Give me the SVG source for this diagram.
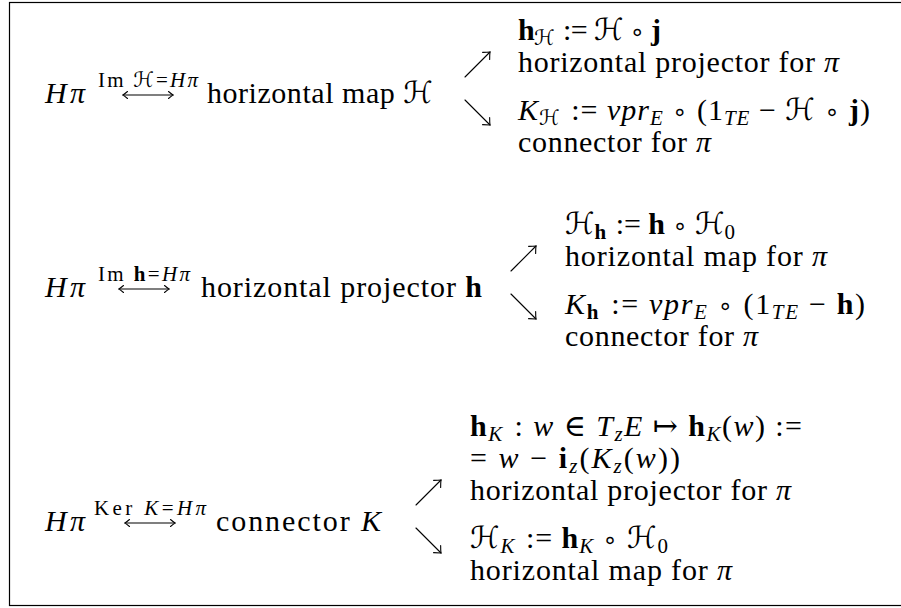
<svg xmlns="http://www.w3.org/2000/svg" width="901" height="608" viewBox="0 0 901 608">
<defs>
<style>
.t{font-family:'Liberation Serif','Times New Roman','DejaVu Serif',serif;font-size:30px;fill:#000}
.s{font-size:21px}
.i{font-style:italic}
.b{font-weight:bold}
.c{font-family:'DejaVu Sans',sans-serif;font-style:normal;font-weight:normal}
.o{font-family:'DejaVu Sans',sans-serif;font-size:24px;font-style:normal;font-weight:normal}
.a{fill:none;stroke:#000;stroke-width:1.1;stroke-linecap:round}
</style>
<marker id="hd" markerUnits="userSpaceOnUse" markerWidth="16" markerHeight="16" viewBox="-8 -8 16 16" refX="0" refY="0" orient="auto" overflow="visible"><path class="a" d="M-5.5,-5 Q-2,-1.5 0,0 Q-2,1.5 -5.5,5"/></marker>
<marker id="hs" markerUnits="userSpaceOnUse" markerWidth="12" markerHeight="12" viewBox="-6 -6 12 12" refX="0" refY="0" orient="auto-start-reverse" overflow="visible"><path class="a" d="M-4.5,-3.5 Q-1.5,-1 0,0 Q-1.5,1 -4.5,3.5"/></marker>
</defs>
<rect x="0" y="0" width="901" height="608" fill="#fff"/>
<rect x="9.5" y="2.5" width="900" height="603" fill="none" stroke="#000" stroke-width="1.2"/>

<g id="row1-left">
<text class="t i" x="45" y="103" textLength="40">Hπ</text>
<text class="t s" x="148" y="87" text-anchor="middle" textLength="100">Im <tspan class="c">ℋ</tspan>=<tspan class="i">Hπ</tspan></text>
<text class="t" x="207" y="103" textLength="226">horizontal map <tspan class="c">ℋ</tspan></text>
</g>
<g id="row1-up">
<text class="t" x="518" y="40" textLength="143"><tspan class="b">h</tspan><tspan class="s c" dy="5">ℋ</tspan><tspan dy="-5" dx="2"> := </tspan><tspan class="c">ℋ</tspan> <tspan class="o">∘</tspan> <tspan class="b">j</tspan></text>
<text class="t" x="518" y="72" textLength="321">horizontal projector for <tspan class="i">π</tspan></text>
</g>
<g id="row1-down">
<text class="t" x="518" y="120" textLength="352"><tspan class="i">K</tspan><tspan class="s c" dy="5">ℋ</tspan><tspan dy="-5" dx="2"> := </tspan><tspan class="i">vpr</tspan><tspan class="s i" dy="5">E</tspan><tspan dy="-5"> </tspan><tspan class="o">∘</tspan> (1<tspan class="s i" dy="5">TE</tspan><tspan dy="-5"> − </tspan><tspan class="c">ℋ</tspan> <tspan class="o">∘</tspan> <tspan class="b">j</tspan>)</text>
<text class="t" x="518" y="152" textLength="193">connector for <tspan class="i">π</tspan></text>
</g>

<g id="row2-left">
<text class="t i" x="45" y="297" textLength="40">Hπ</text>
<text class="t s" x="144" y="281" text-anchor="middle" textLength="92">Im <tspan class="b">h</tspan>=<tspan class="i">Hπ</tspan></text>
<text class="t" x="201" y="297" textLength="281">horizontal projector <tspan class="b">h</tspan></text>
</g>
<g id="row2-up">
<text class="t" x="565" y="234" textLength="170"><tspan class="c">ℋ</tspan><tspan class="s b" dy="5">h</tspan><tspan dy="-5" dx="2"> := </tspan><tspan class="b">h</tspan> <tspan class="o">∘</tspan> <tspan class="c">ℋ</tspan><tspan class="s" dy="5">0</tspan></text>
<text class="t" x="565" y="266" textLength="262">horizontal map for <tspan class="i">π</tspan></text>
</g>
<g id="row2-down">
<text class="t" x="565" y="314" textLength="300"><tspan class="i">K</tspan><tspan class="s b" dy="5">h</tspan><tspan dy="-5" dx="2"> := </tspan><tspan class="i">vpr</tspan><tspan class="s i" dy="5">E</tspan><tspan dy="-5"> </tspan><tspan class="o">∘</tspan> (1<tspan class="s i" dy="5">TE</tspan><tspan dy="-5"> − </tspan><tspan class="b">h</tspan>)</text>
<text class="t" x="565" y="346" textLength="193">connector for <tspan class="i">π</tspan></text>
</g>

<g id="row3-left">
<text class="t i" x="45" y="531" textLength="40">Hπ</text>
<text class="t s" x="150" y="515" text-anchor="middle" textLength="112">Ker <tspan class="i">K</tspan>=<tspan class="i">Hπ</tspan></text>
<text class="t" x="216" y="531" textLength="165">connector <tspan class="i">K</tspan></text>
</g>
<g id="row3-up">
<text class="t" x="470" y="436" textLength="332"><tspan class="b">h</tspan><tspan class="s i" dy="5">K</tspan><tspan dy="-5" dx="2"> : </tspan><tspan class="i">w</tspan> ∈ <tspan class="i">T</tspan><tspan class="s i" dy="5">z</tspan><tspan class="i" dy="-5">E</tspan> ↦ <tspan class="b">h</tspan><tspan class="s i" dy="5">K</tspan><tspan dy="-5">(</tspan><tspan class="i">w</tspan>) :=</text>
<text class="t" x="470" y="468" textLength="210">= <tspan class="i">w</tspan> − <tspan class="b">i</tspan><tspan class="s i" dy="5">z</tspan><tspan dy="-5">(</tspan><tspan class="i">K</tspan><tspan class="s i" dy="5">z</tspan><tspan dy="-5">(</tspan><tspan class="i">w</tspan>))</text>
<text class="t" x="470" y="500" textLength="321">horizontal projector for <tspan class="i">π</tspan></text>
</g>
<g id="row3-down">
<text class="t" x="470" y="548" textLength="198"><tspan class="c">ℋ</tspan><tspan class="s i" dy="5">K</tspan><tspan dy="-5" dx="2"> := </tspan><tspan class="b">h</tspan><tspan class="s i" dy="5">K</tspan><tspan dy="-5"> </tspan><tspan class="o">∘</tspan> <tspan class="c">ℋ</tspan><tspan class="s" dy="5">0</tspan></text>
<text class="t" x="470" y="580" textLength="262">horizontal map for <tspan class="i">π</tspan></text>
</g>

<g id="connectors">
<path class="a" marker-start="url(#hs)" marker-end="url(#hs)" d="M123,95 H173"/>
<path class="a" marker-start="url(#hs)" marker-end="url(#hs)" d="M119,289 H169"/>
<path class="a" marker-start="url(#hs)" marker-end="url(#hs)" d="M125,523 H175"/>
<path class="a" marker-end="url(#hd)" d="M465,77 L490,52"/>
<path class="a" marker-end="url(#hd)" d="M465,100 L490,125"/>
<path class="a" marker-end="url(#hd)" d="M511,271 L536,246"/>
<path class="a" marker-end="url(#hd)" d="M511,294 L536,319"/>
<path class="a" marker-end="url(#hd)" d="M416,505 L441,480"/>
<path class="a" marker-end="url(#hd)" d="M416,528 L441,553"/>
</g>
</svg>
